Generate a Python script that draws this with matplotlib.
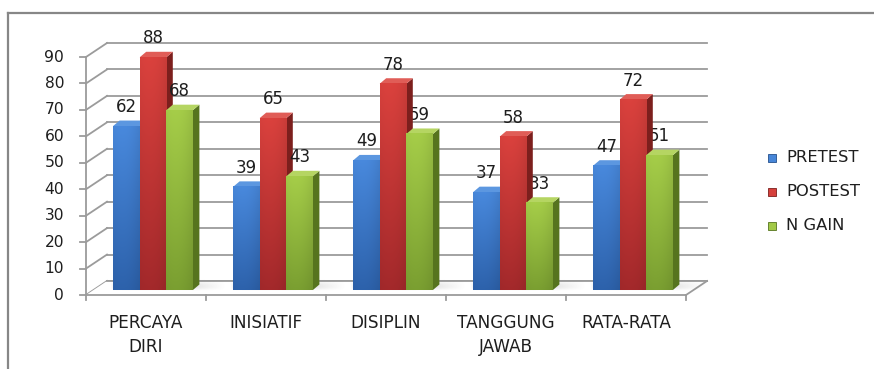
import matplotlib
matplotlib.use("Agg")
import matplotlib.pyplot as plt
from matplotlib.patches import Polygon, Rectangle
from matplotlib.colors import to_rgb
import numpy as np

# ---------------- data ----------------
categories = ["PERCAYA\nDIRI", "INISIATIF", "DISIPLIN", "TANGGUNG\nJAWAB", "RATA-RATA"]
series_names = ["PRETEST", "POSTEST", "N GAIN"]
pretest = [62, 39, 49, 37, 47]
postest = [88, 65, 78, 58, 72]
ngain = [68, 43, 59, 33, 51]
y_ticks = [0, 10, 20, 30, 40, 50, 60, 70, 80, 90]

series = [pretest, postest, ngain]

# ---------------- styles ----------------
front_top = ["#4786d8", "#d6403c", "#a2c947"]
front_bot = ["#2c60a8", "#a0282a", "#789c30"]
side_col = ["#24508c", "#7c1f1d", "#56741e"]
top_col = ["#5c97e0", "#e05d57", "#b5d562"]
grid_col = "#9b9b9b"
text_col = "#1e1e1e"
FONT = "DejaVu Sans"

fig = plt.figure(figsize=(8.74, 3.69), dpi=100)
ax = fig.add_axes([0, 0, 1, 1])
ax.axis("off")

# pixel-geometry helpers (layout only)
PX0, CATW, PY0, PPU = 86, 120.0, 295, 238 / 90.0
def X(px):
    return -0.5 + (px - PX0) / CATW
def Y(py):
    return (PY0 - py) / PPU

WDX, WDY = 21 / CATW, 14 / PPU        # wall depth
BDX, BDY = 7 / CATW, 5 / PPU          # bar plane offset
BW = 26.6 / CATW                       # bar width
SDX, SDY = 6.5 / CATW, 5.5 / PPU       # bar depth

n = len(categories)
xl0, xr0 = -0.5, n - 0.5

# border of chart area
ax.plot([X(8), X(8)], [Y(369), Y(13)], color="#878787", lw=1.6, zorder=1)
ax.plot([X(8), X(874)], [Y(13), Y(13)], color="#878787", lw=1.6, zorder=1)

# walls / grid
for v in y_ticks:
    ax.plot([xl0, xl0 + WDX], [v, v + WDY], color=grid_col, lw=1.3, zorder=2)
    ax.plot([xl0 + WDX, xr0 + WDX], [v + WDY, v + WDY], color=grid_col, lw=1.3, zorder=2)
    ax.plot([xl0 - 0.05, xl0], [v, v], color=grid_col, lw=1.3, zorder=2)
    ax.text(X(64), v, str(v), ha="right", va="center", fontsize=11.2,
            family=FONT, color=text_col)
ax.plot([xl0, xl0], [0, y_ticks[-1]], color=grid_col, lw=1.3, zorder=2)
# floor
floor = Polygon([[xl0, 0], [xr0, 0], [xr0 + WDX, WDY], [xl0 + WDX, WDY]],
                closed=True, facecolor="white", edgecolor="none", zorder=2.5)
ax.add_patch(floor)
ax.plot([xl0, xr0], [0, 0], color=grid_col, lw=1.3, zorder=3)
ax.plot([xr0, xr0 + WDX], [0, WDY], color=grid_col, lw=1.3, zorder=3)
ax.plot([xl0 + WDX, xr0 + WDX], [WDY, WDY], color=grid_col, lw=1.3, zorder=3)
for k in range(n + 1):
    xx = xl0 + k
    ax.plot([xx, xx], [0, -5 / PPU], color=grid_col, lw=1.3, zorder=3)

# soft floor shadows behind each group
sx = np.linspace(0, 1, 120)
sy = np.linspace(0, 1, 20)
SX, SY = np.meshgrid(sx, sy)
alpha = np.clip(np.minimum(SX / 0.1, (1 - SX) / 0.45), 0, 1) * np.clip(np.minimum(SY / 0.3, (1 - SY) / 0.5), 0, 1) * 0.25
shadow = np.zeros((20, 120, 4))
shadow[..., :3] = 0.35
shadow[..., 3] = alpha
for i in range(n):
    cx = i + BDX
    ax.imshow(shadow, extent=(cx - 1.5 * BW - 0.03, cx + 1.5 * BW + 0.27, BDY - 1.0 / PPU, BDY + 11 / PPU),
              aspect="auto", interpolation="bilinear", zorder=3.2, origin="lower")

def face(c_top, c_bot, N=64, M=24):
    t = np.linspace(0, 1, N)[:, None, None]
    a, b = np.array(to_rgb(c_top)), np.array(to_rgb(c_bot))
    col = a[None, None, :] * (1 - t) + b[None, None, :] * t
    u = np.linspace(0, 1, M)
    f = 1.02 - 0.08 * (u - 0.35) ** 2 / 0.42
    col = np.repeat(col, M, axis=1) * f[None, :, None]
    return np.clip(col, 0, 1)

# bars
z = 4
for i in range(n):
    for j, vals in enumerate(series):
        v = vals[i]
        xl = i - 1.5 * BW + j * BW + BDX
        xr = xl + BW
        b, t = BDY, BDY + v
        side = Polygon([[xr, b], [xr + SDX, b + SDY], [xr + SDX, t + SDY], [xr, t]],
                       closed=True, facecolor=side_col[j], edgecolor="none", zorder=z)
        topp = Polygon([[xl, t], [xl + SDX, t + SDY], [xr + SDX, t + SDY], [xr, t]],
                       closed=True, facecolor=top_col[j], edgecolor="none", zorder=z)
        ax.add_patch(side)
        ax.add_patch(topp)
        ax.imshow(face(front_top[j], front_bot[j]), extent=(xl, xr, b, t),
                  aspect="auto", interpolation="bilinear", zorder=z + 0.5)
        ax.text((xl + xr) / 2, t + 19 / PPU, str(v), ha="center", va="center",
                fontsize=12, family=FONT, color=text_col, zorder=10)
        z += 1

# category labels
for i, lab in enumerate(categories):
    for k, line in enumerate(lab.split("\n")):
        ax.text(i, Y(323 + 24 * k), line, ha="center", va="center",
                fontsize=12.2, family=FONT, color=text_col)

# legend
for j, name in enumerate(series_names):
    cy = Y(158 + 34 * j)
    ax.add_patch(Rectangle((X(768), cy - 4 / PPU), 8 / CATW, 8 / PPU,
                           facecolor=front_top[j], edgecolor=side_col[j], lw=0.6, zorder=10))
    ax.text(X(786), cy, name, ha="left", va="center", fontsize=11.8,
            family=FONT, color=text_col)

ax.set_xlim(X(0), X(874))
ax.set_ylim(Y(369), Y(0))
fig.savefig("out.png", dpi=100)
